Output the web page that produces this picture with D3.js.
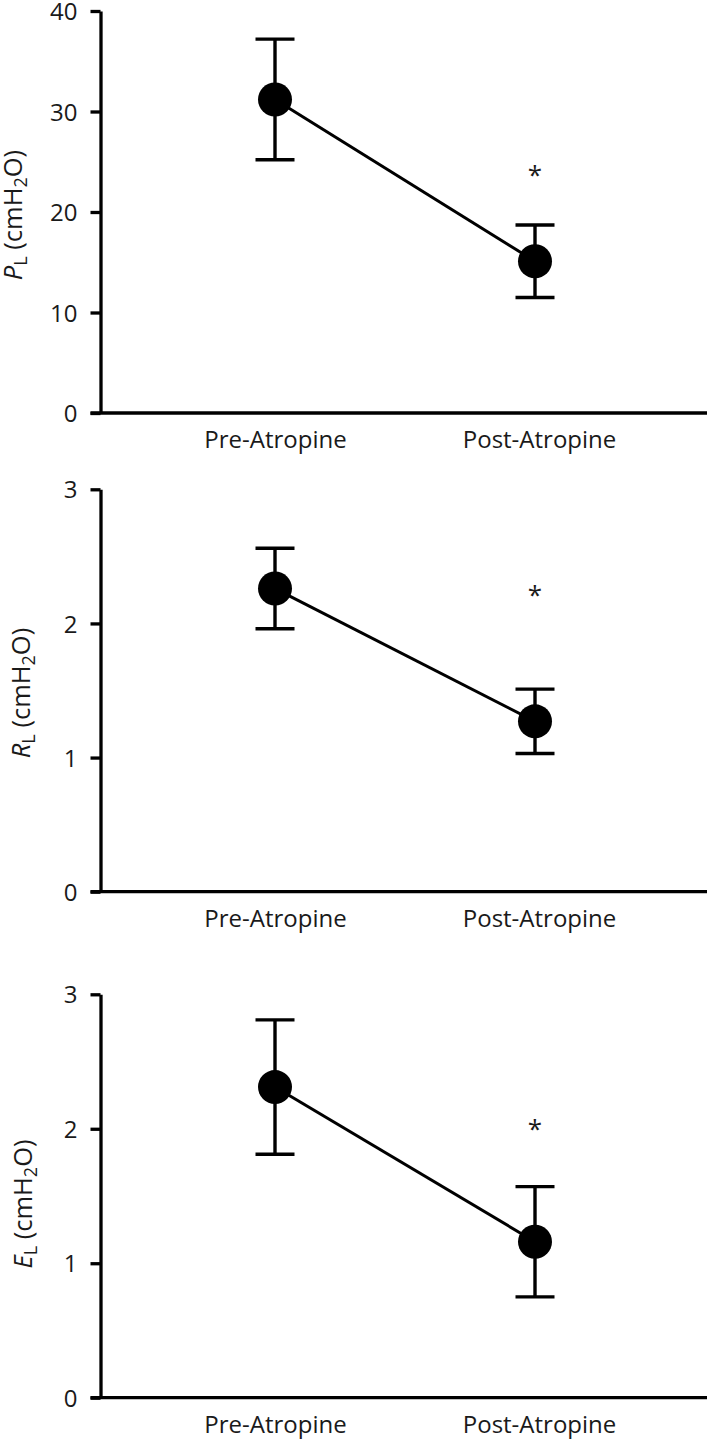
<!DOCTYPE html>
<html>

<head>
	<meta charset="utf-8">
	<title>Lung mechanics before and after atropine</title>
	<style>
		body {
			margin: 0;
			background: #fff;
		}
		svg text {
			font-family: "Open Sans", "Noto Sans", sans-serif;
		}
		.axis path,
		.axis line,
		.baseline {
			stroke: #000;
			stroke-width: 3.3px;
			fill: none;
		}
		.axis text,
		.title,
		.star {
			fill: #1a1a1a;
			font-size: 24px;
			font-family: "Open Sans", "Noto Sans", sans-serif;
		}
		.title {
			font-size: 25.5px;
		}
		.link {
			fill: none;
			stroke: #000;
			stroke-width: 3px;
		}
		.err {
			stroke: #000;
			stroke-width: 3.4px;
		}
		.dot {
			fill: #000;
		}
	</style>
</head>

<body>

	<div id="graph"></div>

	<script src="https://cdnjs.cloudflare.com/ajax/libs/d3/7.8.5/d3.min.js"></script>

	<script type="text/javascript">

		// values (mean and error half-width)
		var categories = ["Pre-Atropine", "Post-Atropine"];

		var plMean = [31.2, 15.1];
		var plErr = [6.0, 3.6];
		var plStar = 24.2;
		var plTicks = [0, 10, 20, 30, 40];

		var rlMean = [2.26, 1.27];
		var rlErr = [0.30, 0.24];
		var rlStar = 2.25;
		var rlTicks = [0, 1, 2, 3];

		var elMean = [2.31, 1.16];
		var elErr = [0.50, 0.41];
		var elStar = 2.04;
		var elTicks = [0, 1, 2, 3];

		var width = 709;
		var height = 1440;

		var svg = d3.select("#graph").append("svg")
			.attr("width", width)
			.attr("height", height);

		var x = d3.scalePoint().domain(categories).range([275, 535]);

		var left = 100.5;
		var right = 707;
		var capHalf = 19.5;
		var radius = 17;

		function drawPanel(p) {
			var y = d3.scaleLinear()
				.domain([0, d3.max(p.ticks)])
				.range([p.bottom, p.top]);

			var g = svg.append("g");

			// x baseline runs a little past the y axis, like the figure
			g.append("line")
				.attr("class", "baseline")
				.attr("x1", left - 10)
				.attr("x2", right)
				.attr("y1", y(0))
				.attr("y2", y(0));

			var xAxis = g.append("g")
				.attr("class", "axis")
				.attr("transform", "translate(0," + y(0) + ")")
				.call(d3.axisBottom(x).tickSize(0).tickPadding(18));
			xAxis.select(".domain").remove();
			xAxis.selectAll("text").attr("dx", function(d, i) { return i * 4; });

			g.append("g")
				.attr("class", "axis")
				.attr("transform", "translate(" + left + ",0)")
				.call(d3.axisLeft(y).tickValues(p.ticks).tickFormat(d3.format("d"))
					.tickSize(10).tickPadding(13).tickSizeOuter(0))
				.selectAll("text")
				.attr("dy", "0.36em");

			// rotated y title with italic symbol and subscripts
			var title = g.append("text")
				.attr("class", "title")
				.attr("text-anchor", "middle")
				.attr("transform", "translate(" + p.titleX + "," + p.titleY + ") rotate(-90)");
			title.append("tspan").attr("font-style", "italic").text(p.symbol);
			title.append("tspan").style("font-size", "18px").attr("dy", "5").text("L");
			title.append("tspan").attr("dy", "-5").text(" (cmH");
			title.append("tspan").style("font-size", "18px").attr("dy", "5").text("2");
			title.append("tspan").attr("dy", "-5").text("O)");

			var rows = categories.map(function(c, i) {
				return { cat: c, mean: p.mean[i], err: p.err[i] };
			});

			var line = d3.line()
				.x(function(d) { return x(d.cat); })
				.y(function(d) { return y(d.mean); });

			g.append("path")
				.datum(rows)
				.attr("class", "link")
				.attr("d", line);

			var bars = g.selectAll(".bar")
				.data(rows)
				.enter()
				.append("g")
				.attr("class", "bar");

			bars.append("line")
				.attr("class", "err")
				.attr("x1", function(d) { return x(d.cat); })
				.attr("x2", function(d) { return x(d.cat); })
				.attr("y1", function(d) { return y(d.mean - d.err); })
				.attr("y2", function(d) { return y(d.mean + d.err); });

			[-1, 1].forEach(function(s) {
				bars.append("line")
					.attr("class", "err")
					.attr("x1", function(d) { return x(d.cat) - capHalf; })
					.attr("x2", function(d) { return x(d.cat) + capHalf; })
					.attr("y1", function(d) { return y(d.mean + s * d.err); })
					.attr("y2", function(d) { return y(d.mean + s * d.err); });
			});

			bars.append("circle")
				.attr("class", "dot")
				.attr("cx", function(d) { return x(d.cat); })
				.attr("cy", function(d) { return y(d.mean); })
				.attr("r", radius);

			g.append("text")
				.attr("class", "star")
				.attr("text-anchor", "middle")
				.attr("x", x(categories[1]))
				.attr("y", y(p.star))
				.attr("dy", "0.55em")
				.style("font-size", "26px")
				.text("*");
		}

		drawPanel({ symbol: "P", mean: plMean, err: plErr, star: plStar, ticks: plTicks,
			top: 11, bottom: 413, titleX: 22, titleY: 215 });
		drawPanel({ symbol: "R", mean: rlMean, err: rlErr, star: rlStar, ticks: rlTicks,
			top: 489.3, bottom: 891.7, titleX: 30, titleY: 693 });
		drawPanel({ symbol: "E", mean: elMean, err: elErr, star: elStar, ticks: elTicks,
			top: 994.3, bottom: 1397.7, titleX: 32, titleY: 1204 });

	</script>

</body>

</html>
